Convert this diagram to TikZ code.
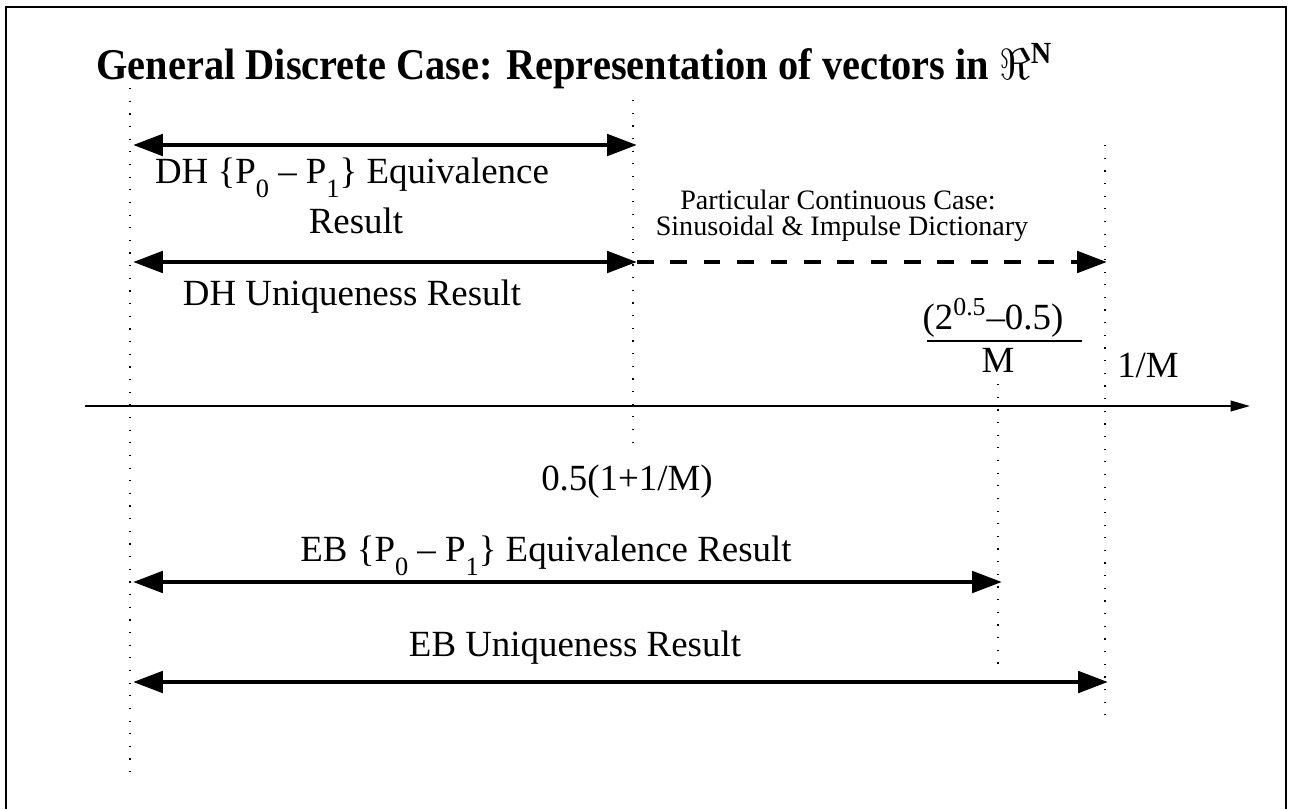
\documentclass[tikz,border=0pt]{standalone}
\usepackage{fontspec}
\setmainfont{Liberation Serif}
\newfontfamily\titlefont[FakeStretch=0.92]{Liberation Serif}
\usetikzlibrary{arrows.meta}

\newcommand{\lowidx}[1]{\raisebox{-0.4em}{\fontsize{15}{15}\selectfont #1}}

\tikzset{
  lbl/.style={font=\fontsize{21}{25}\selectfont, inner sep=0pt, anchor=base},
  smalllbl/.style={font=\fontsize{16}{19}\selectfont, inner sep=0pt, anchor=base},
  guide/.style={line width=0.7pt, dash pattern=on 0.7pt off 6.5pt},
  resultarrow/.style={line width=2.7pt, {Triangle[length=17pt,width=12pt]}-{Triangle[length=17pt,width=12pt]}},
  halfarrow/.style={line width=2.7pt, -{Triangle[length=17pt,width=12pt]}},
}

\begin{document}
\begin{tikzpicture}[x=0.02cm, y=-0.02cm]
    \useasboundingbox (0,0) rectangle (1291,809);
    \draw[line width=1.2pt] (6,809) -- (6,7) -- (1286,7) -- (1286,809);

    % title
    \node[font=\titlefont\fontsize{25}{30}\selectfont\bfseries, inner sep=0pt, anchor=base west] (title) at (96,79)
        {General Discrete Case: Representation of vectors in $\Re$\textsuperscript{N}};

    % dotted guides
    \coordinate (g0t) at (130,88);   \coordinate (g0b) at (130,775);
    \coordinate (g1t) at (633,100);  \coordinate (g1b) at (633,442);
    \coordinate (g2t) at (998,384);  \coordinate (g2b) at (998,670);
    \coordinate (g3t) at (1105,145); \coordinate (g3b) at (1105,718);
    \foreach \g in {g0,g1,g2,g3}
        \draw[guide] (\g t) -- (\g b);

    % DH results
    \coordinate (dheqL) at (133,145); \coordinate (dheqR) at (637,145);
    \draw[resultarrow] (dheqL) -- (dheqR);
    \node[lbl] (dheq1) at (352,183) {DH \{P\lowidx{0} -- P\lowidx{1}\} Equivalence};
    \node[lbl] (dheq2) at (356,233) {Result};

    \coordinate (dhunL) at (133,262); \coordinate (dhunR) at (637,262);
    \draw[resultarrow] (dhunL) -- (dhunR);
    \node[lbl] (dhun) at (352,305) {DH Uniqueness Result};

    % particular continuous case
    \coordinate (contR) at (1107,262);
    \draw[halfarrow, dash pattern=on 9.5pt off 9.5pt] (dhunR) -- (contR);
    \node[smalllbl] (cont1) at (838,209) {Particular Continuous Case:};
    \node[smalllbl] (cont2) at (842,235) {Sinusoidal \& Impulse Dictionary};

    % axis
    \coordinate (axL) at (85,406); \coordinate (axR) at (1250,406);
    \draw[line width=1.2pt, -{Triangle[length=11pt,width=6pt]}] (axL) -- (axR);

    \node[lbl] (num) at (993,329) {(2\textsuperscript{0.5}--0.5)};
    \coordinate (barL) at (927,341); \coordinate (barR) at (1082,341);
    \draw[line width=0.8pt] (barL) -- (barR);
    \node[lbl] (den) at (998,372) {M};
    \node[lbl] (invm) at (1148,377) {1/M};
    \node[lbl] (half) at (627,490) {0.5(1+1/M)};

    % EB results
    \node[lbl] (ebeq) at (546,561) {EB \{P\lowidx{0} -- P\lowidx{1}\} Equivalence Result};
    \coordinate (ebeqL) at (133,582); \coordinate (ebeqR) at (1002,582);
    \draw[resultarrow] (ebeqL) -- (ebeqR);

    \node[lbl] (ebun) at (575,656) {EB Uniqueness Result};
    \coordinate (ebunL) at (133,682); \coordinate (ebunR) at (1108,682);
    \draw[resultarrow] (ebunL) -- (ebunR);
\end{tikzpicture}
\end{document}
